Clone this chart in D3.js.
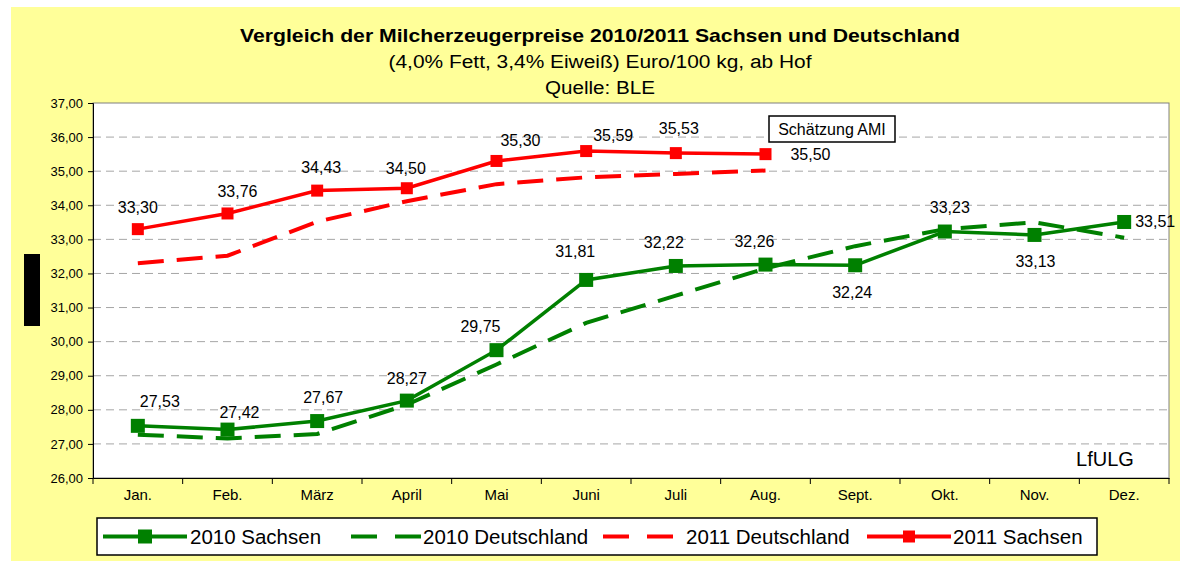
<!DOCTYPE html>
<html><head><meta charset="utf-8">
<script src="https://cdn.jsdelivr.net/npm/d3@7"></script>
<style>
html,body{margin:0;padding:0;background:#fff;}
svg{display:block;font-family:"Liberation Sans",Arial,sans-serif;}
</style></head>
<body>
<svg id="c" width="1180" height="563"></svg>
<script>
const months = ["Jan.","Feb.","März","April","Mai","Juni","Juli","Aug.","Sept.","Okt.","Nov.","Dez."];
const sachsen2010 = [27.53,27.42,27.67,28.27,29.75,31.81,32.22,32.26,32.24,33.23,33.13,33.51];
const deutschland2010 = [27.27,27.16,27.29,28.15,29.33,30.55,31.35,32.15,32.80,33.30,33.50,33.05];
const deutschland2011 = [32.30,32.52,33.52,34.12,34.62,34.82,34.92,35.02];
const sachsen2011 = [33.30,33.76,34.43,34.50,35.30,35.59,35.53,35.50];
const yTicks = [26,27,28,29,30,31,32,33,34,35,36,37];
const legendLabels = ["2010 Sachsen","2010 Deutschland","2011 Deutschland","2011 Sachsen"];
// label placement (dx, dy relative to point)
const lab2010 = [[22,-24],[12,-17],[6,-24],[0,-22],[-16,-24],[-11,-28],[-12,-23],[-11,-23],[-3,27],[5,-24],[1,27],[31,0]];
const lab2011 = [[0,-22],[10,-22],[4,-23],[-1,-20],[24,-20],[27,-16],[3,-25],[45,0]];

const svg = d3.select("#c");
const fmt = v => v.toFixed(2).replace(".", ",");

// background
svg.append("rect").attr("x",11).attr("y",7).attr("width",1169).attr("height",554).attr("fill","#FFFF99");

const L=93, R=1169, T=103, B=478;
const x = d3.scaleBand().domain(months).range([L,R]);
const cx = i => x(months[i]) + x.bandwidth()/2;
const y = d3.scaleLinear().domain([26,37]).range([B,T]);

// plot area
svg.append("rect").attr("x",L).attr("y",T).attr("width",R-L).attr("height",B-T)
  .attr("fill","#fff").attr("stroke","#808080").attr("stroke-width",1);

// gridlines
svg.append("g").selectAll("line").data(yTicks.filter(t=>t>26&&t<37)).join("line")
  .attr("x1",L).attr("x2",R).attr("y1",d=>y(d)).attr("y2",d=>y(d))
  .attr("stroke","#a6a6a6").attr("stroke-width",1).attr("stroke-dasharray","8,5");

// y axis
const ya = svg.append("g").attr("transform",`translate(${L},0)`)
  .call(d3.axisLeft(y).tickValues(yTicks).tickFormat(fmt).tickSize(5).tickPadding(5));
ya.select(".domain").attr("stroke","#000");
ya.selectAll(".tick line").attr("stroke","#000");
ya.selectAll("text").attr("font-size",13).attr("fill","#000").attr("font-family","Liberation Sans, Arial, sans-serif");

// x axis
const xa = svg.append("g").attr("transform",`translate(0,${B})`)
  .call(d3.axisBottom(x).tickSize(0).tickPadding(11));
xa.select(".domain").attr("stroke","#000");
xa.selectAll("text").attr("font-size",15).attr("fill","#000").attr("font-family","Liberation Sans Narrow, Arial Narrow, Liberation Sans, sans-serif");
svg.append("g").selectAll("line").data(months.concat(["_end"])).join("line")
  .attr("x1",(d,i)=>L+i*x.bandwidth()).attr("x2",(d,i)=>L+i*x.bandwidth())
  .attr("y1",B).attr("y2",B+6).attr("stroke","#000");

const line = d3.line().x((d,i)=>cx(i)).y(d=>y(d));
const GREEN="#008000", RED="#FF0000";

// dashed series
svg.append("path").datum(deutschland2010).attr("d",line).attr("fill","none")
  .attr("stroke",GREEN).attr("stroke-width",4).attr("stroke-dasharray","26,13");
svg.append("path").datum(deutschland2011).attr("d",line).attr("fill","none")
  .attr("stroke",RED).attr("stroke-width",4).attr("stroke-dasharray","26,13");

// solid series
svg.append("path").datum(sachsen2010).attr("d",line).attr("fill","none")
  .attr("stroke",GREEN).attr("stroke-width",3.5);
svg.append("g").selectAll("rect").data(sachsen2010).join("rect")
  .attr("x",(d,i)=>cx(i)-7).attr("y",d=>y(d)-7).attr("width",14).attr("height",14).attr("fill",GREEN);
svg.append("path").datum(sachsen2011).attr("d",line).attr("fill","none")
  .attr("stroke",RED).attr("stroke-width",3.5);
svg.append("g").selectAll("rect").data(sachsen2011).join("rect")
  .attr("x",(d,i)=>cx(i)-6).attr("y",d=>y(d)-6).attr("width",12).attr("height",12).attr("fill",RED);

// data labels
function labels(data, offs){
  svg.append("g").selectAll("text").data(data).join("text")
    .attr("x",(d,i)=>cx(i)+offs[i][0]).attr("y",(d,i)=>y(d)+offs[i][1])
    .attr("text-anchor","middle").attr("dominant-baseline","central")
    .attr("font-size",16).attr("fill","#000").text(fmt);
}
labels(sachsen2010, lab2010);
labels(sachsen2011, lab2011);

// annotation
svg.append("rect").attr("x",769).attr("y",116).attr("width",126).attr("height",26)
  .attr("fill","#fff").attr("stroke","#000").attr("stroke-width",1.5);
svg.append("text").attr("x",832).attr("y",129.5).attr("text-anchor","middle").attr("dominant-baseline","central")
  .attr("font-size",16).text("Schätzung AMI");

svg.append("text").attr("x",1105).attr("y",459).attr("text-anchor","middle").attr("dominant-baseline","central")
  .attr("font-size",20).text("LfULG");

// black marker at left
svg.append("rect").attr("x",24).attr("y",254).attr("width",16).attr("height",72).attr("fill","#000");

// titles
svg.append("text").attr("x",600).attr("y",35).attr("text-anchor","middle").attr("dominant-baseline","central")
  .attr("font-size",19).attr("font-weight","bold").attr("textLength",720).attr("lengthAdjust","spacingAndGlyphs")
  .text("Vergleich der Milcherzeugerpreise 2010/2011 Sachsen und Deutschland");
svg.append("text").attr("x",600).attr("y",62).attr("text-anchor","middle").attr("dominant-baseline","central")
  .attr("font-size",18).attr("textLength",423).attr("lengthAdjust","spacingAndGlyphs")
  .text("(4,0% Fett, 3,4% Eiweiß) Euro/100 kg, ab Hof");
svg.append("text").attr("x",600).attr("y",88).attr("text-anchor","middle").attr("dominant-baseline","central")
  .attr("font-size",18).attr("textLength",110).attr("lengthAdjust","spacingAndGlyphs").text("Quelle: BLE");

// legend
const lg = svg.append("g");
lg.append("rect").attr("x",97).attr("y",518).attr("width",1000).attr("height",37)
  .attr("fill","#fff").attr("stroke","#000").attr("stroke-width",1.5);
const items = [
  {x1:103,x2:187,c:GREEN,dash:null,mk:14,tx:190},
  {x1:351,x2:421,c:GREEN,dash:"26,18",mk:0,tx:423},
  {x1:603,x2:676,c:RED,dash:"26,18",mk:0,tx:686},
  {x1:867,x2:951,c:RED,dash:null,mk:12,tx:953}
];
items.forEach((it,i)=>{
  const ly=536.5;
  const l = lg.append("line").attr("x1",it.x1).attr("x2",it.x2).attr("y1",ly).attr("y2",ly)
    .attr("stroke",it.c).attr("stroke-width",4);
  if(it.dash) l.attr("stroke-dasharray",it.dash);
  if(it.mk) lg.append("rect").attr("x",(it.x1+it.x2)/2-it.mk/2).attr("y",ly-it.mk/2)
    .attr("width",it.mk).attr("height",it.mk).attr("fill",it.c);
  lg.append("text").attr("x",it.tx).attr("y",ly).attr("dominant-baseline","central")
    .attr("font-size",20.5).text(legendLabels[i]);
});
</script>
</body></html>
